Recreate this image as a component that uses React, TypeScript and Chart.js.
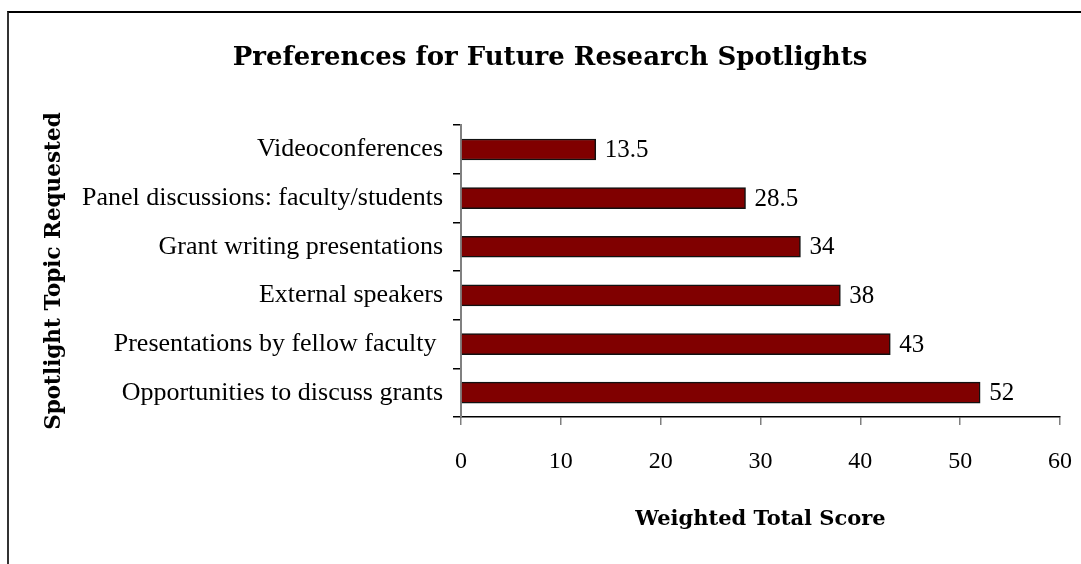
import React, { useEffect, useRef } from 'react';
import { Chart, registerables } from 'chart.js';

Chart.register(...registerables);

const categories = [
  'Videoconferences',
  'Panel discussions: faculty/students',
  'Grant writing presentations',
  'External speakers',
  'Presentations by fellow faculty ',
  'Opportunities to discuss grants',
];
const scores = [13.5, 28.5, 34, 38, 43, 52];
const xMin = 0;
const xMax = 60;
const xStep = 10;
const chartTitle = 'Preferences for Future Research Spotlights';
const xAxisTitle = 'Weighted Total Score';
const yAxisTitle = 'Spotlight Topic Requested';

const valueLabels = {
  id: 'valueLabels',
  afterDatasetsDraw(chart: any) {
    const { ctx } = chart;
    const meta = chart.getDatasetMeta(0);
    ctx.save();
    ctx.font = '25px "Liberation Serif"';
    ctx.fillStyle = '#000';
    ctx.textAlign = 'left';
    ctx.textBaseline = 'middle';
    meta.data.forEach((el: any, i: number) => {
      const { x, y } = el.getProps(['x', 'y'], true);
      ctx.fillText(String(scores[i]), x + 9, y + 1);
    });
    ctx.restore();
  },
};

export default function App() {
  const ref = useRef<HTMLCanvasElement>(null);

  useEffect(() => {
    if (!ref.current) return;
    const chart = new Chart(ref.current, {
      type: 'bar',
      data: {
        labels: categories,
        datasets: [
          {
            data: scores,
            backgroundColor: '#800000',
            borderColor: '#111',
            borderWidth: 1.5,
            barThickness: 21,
          },
        ],
      },
      options: {
        indexAxis: 'y',
        responsive: false,
        maintainAspectRatio: false,
        animation: false,
        layout: { padding: { left: 40, right: 21, top: 0, bottom: 0 } },
        plugins: {
          legend: { display: false },
          tooltip: { enabled: false },
          title: {
            display: true,
            text: chartTitle,
            color: '#000',
            font: { family: '"DejaVu Serif"', size: 26, weight: 'bold' },
            padding: { top: 43, bottom: 51 },
          },
        },
        scales: {
          x: {
            type: 'linear',
            min: xMin,
            max: xMax,
            ticks: {
              stepSize: xStep,
              color: '#000',
              font: { family: '"Liberation Serif"', size: 24 },
              padding: 22,
            },
            grid: {
              drawOnChartArea: false,
              drawTicks: true,
              tickLength: 8,
              color: '#808080',
              lineWidth: 1.5,
            },
            border: { display: true, color: '#000', width: 1.5 },
            title: {
              display: true,
              text: xAxisTitle,
              color: '#000',
              font: { family: '"DejaVu Serif"', size: 21, weight: 'bold' },
              padding: { top: 0, bottom: 32 },
            },
            afterFit(scale: any) {
              scale.height = 147;
              scale.paddingLeft = 0;
              scale.paddingRight = 0;
            },
          },
          y: {
            ticks: {
              color: '#000',
              font: { family: '"Liberation Serif"', size: 26 },
              padding: 10,
            },
            grid: {
              drawOnChartArea: false,
              drawTicks: true,
              tickLength: 8,
              color: '#000',
              lineWidth: 1.5,
              offset: true,
            },
            border: { display: true, color: '#808080', width: 2 },
            title: {
              display: true,
              text: yAxisTitle,
              color: '#000',
              font: { family: '"DejaVu Serif"', size: 21.5, weight: 'bold' },
              padding: { top: 2, bottom: 0 },
            },
            afterFit(scale: any) {
              scale.width = 421;
            },
          },
        },
      },
      plugins: [valueLabels],
    });
    return () => chart.destroy();
  }, []);

  return (
    <div
      style={{
        position: 'absolute',
        left: 0,
        top: 0,
        width: 1081,
        height: 564,
        overflow: 'hidden',
        background: '#fff',
      }}
    >
      <div
        style={{
          position: 'absolute',
          left: 7,
          top: 11,
          width: 1200,
          height: 700,
          borderLeft: '2px solid #333',
          borderTop: '2px solid #000',
        }}
      />
      <canvas
        ref={ref}
        width={1081}
        height={564}
        style={{ position: 'absolute', left: 0, top: 0 }}
      />
    </div>
  );
}
